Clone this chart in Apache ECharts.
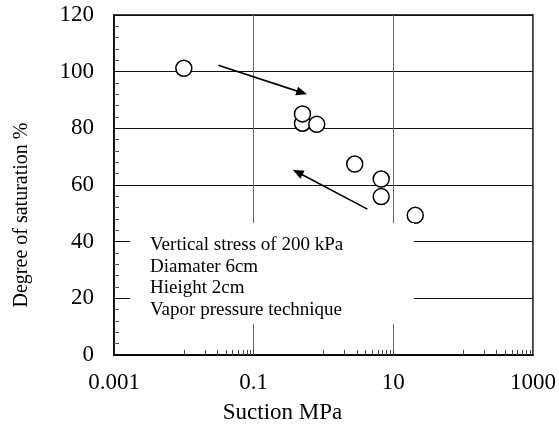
<!DOCTYPE html>
<html>
<head>
<meta charset="utf-8">
<script src="https://cdn.jsdelivr.net/npm/echarts@6/dist/echarts.min.js"></script>
<style>
html,body{margin:0;padding:0;background:#fff;}
#chart{width:559px;height:429px;}
</style>
</head>
<body>
<div id="chart"></div>
<script>
// Data
var suction = [0.01, 0.5, 0.5, 0.8, 2.8, 6.7, 6.7, 20.6];
var saturation = [101.2, 81.8, 85.1, 81.4, 67.4, 62.1, 55.9, 49.3];

// Arrows: [startX, startY, endX, endY]
var arrowDrying = [0.0312, 102.3, 0.49, 92.6];
var arrowWetting = [4.25, 51.5, 0.426, 64.5];

// Axis ticks
var xLabelValues = [0.001, 0.1, 10, 1000];
var xMinorTickValues = [
  0.01, 0.02, 0.03, 0.04, 0.05, 0.06, 0.07, 0.08, 0.09, 0.1,
  1, 2, 3, 4, 5, 6, 7, 8, 9, 10,
  100, 200, 300, 400, 500, 600, 700, 800, 900
];
var yTicks = [0, 20, 40, 60, 80, 100, 120];

var noteLines = [
  'Vertical stress of 200 kPa',
  'Diamater 6cm',
  'Hieight 2cm',
  'Vapor pressure technique'
];

var FONT = 'Liberation Serif';

var points = suction.map(function (x, i) { return [x, saturation[i]]; });

var chart = echarts.init(document.getElementById('chart'), null, {renderer: 'canvas'});

var graphics = [{
  type: 'rect',
  shape: {x: 130, y: 223, width: 284, height: 101},
  style: {fill: '#fff'},
  z: 50
}];
noteLines.forEach(function (t, i) {
  graphics.push({
    type: 'text',
    x: 150,
    y: 245 + i * 21.7,
    style: {text: t, font: '19px "Liberation Serif"', fill: '#000', textVerticalAlign: 'middle'},
    z: 51
  });
});

var option = {
  animation: false,
  backgroundColor: '#fff',
  grid: {
    left: 114, right: 25, top: 15, bottom: 74,
    show: true, borderColor: '#000', borderWidth: 1.5
  },
  xAxis: [{
    type: 'log',
    logBase: 10,
    min: xLabelValues[0],
    max: xLabelValues[xLabelValues.length - 1],
    interval: 2,
    name: 'Suction MPa',
    nameLocation: 'middle',
    nameGap: 46,
    nameTextStyle: {fontFamily: FONT, fontSize: 23, color: '#000', padding: [0, 82, 0, 0]},
    axisLine: {show: true, lineStyle: {color: '#000', width: 1.5}},
    axisTick: {show: false},
    axisLabel: {
      fontFamily: FONT, fontSize: 23, color: '#000', margin: 16,
      customValues: xLabelValues,
      formatter: function (v) {
        var m = {0.001: '0.001', 0.1: '0.1', 10: '10', 1000: '1000'};
        return m[v] !== undefined ? m[v] : String(v);
      }
    },
    splitLine: {show: true, lineStyle: {color: '#666', width: 1}}
  }, {
    type: 'log',
    logBase: 10,
    min: xLabelValues[0],
    max: xLabelValues[xLabelValues.length - 1],
    position: 'bottom',
    axisLine: {show: false},
    axisLabel: {show: false},
    splitLine: {show: false},
    axisTick: {
      show: true, inside: true, length: 5,
      customValues: xMinorTickValues,
      lineStyle: {color: '#444', width: 1}
    }
  }],
  yAxis: {
    type: 'value',
    min: yTicks[0],
    max: yTicks[yTicks.length - 1],
    interval: 20,
    name: 'Degree of saturation %',
    nameLocation: 'middle',
    nameGap: 82,
    nameTextStyle: {fontFamily: FONT, fontSize: 20, color: '#000', padding: [0, 60, 0, 0]},
    axisLine: {show: true, lineStyle: {color: '#000', width: 1.5}},
    axisTick: {show: true, inside: true, length: 5, lineStyle: {color: '#000'}},
    minorTick: {show: true, splitNumber: 5, length: 5, lineStyle: {color: '#555'}},
    axisLabel: {fontFamily: FONT, fontSize: 23, color: '#000', margin: 20},
    splitLine: {show: true, lineStyle: {color: '#111', width: 1}}
  },
  graphic: graphics,
  series: [{
    type: 'scatter',
    xAxisIndex: 0,
    data: points,
    symbol: 'circle',
    symbolSize: 16,
    itemStyle: {color: '#fff', borderColor: '#000', borderWidth: 1.5, opacity: 1},
    z: 5,
    markLine: {
      silent: true,
      symbol: ['none', 'triangle'],
      symbolSize: [9, 11],
      label: {show: false},
      lineStyle: {color: '#000', width: 1.6, type: 'solid'},
      itemStyle: {color: '#000'},
      data: [
        [{coord: [arrowDrying[0], arrowDrying[1]]}, {coord: [arrowDrying[2], arrowDrying[3]]}],
        [{coord: [arrowWetting[0], arrowWetting[1]]}, {coord: [arrowWetting[2], arrowWetting[3]]}]
      ]
    }
  }]
};
chart.setOption(option);
</script>
</body>
</html>
